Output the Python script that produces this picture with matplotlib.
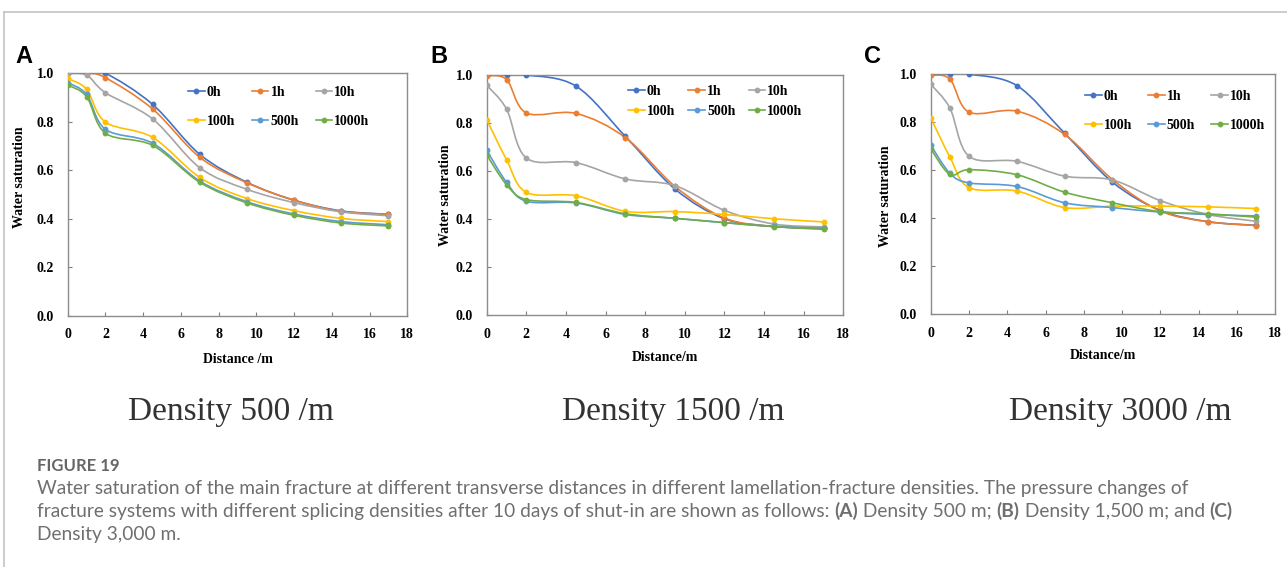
import numpy as np
import matplotlib
matplotlib.use('Agg')
import matplotlib.pyplot as plt
from matplotlib.path import Path
from matplotlib.patches import PathPatch
from matplotlib.lines import Line2D

# distance along the main fracture (m)
distance = [0, 1, 2, 4.5, 7, 9.5, 12, 14.5, 17]
hours = ['0h', '1h', '10h', '100h', '500h', '1000h']
colors = ['#4472C4', '#ED7D31', '#A5A5A5', '#FFC000', '#5B9BD5', '#70AD47']

# (A) density 500 /m
sat_a = [
    [1.0, 1.0, 1.0, 0.872, 0.666, 0.551, 0.477, 0.433, 0.419],
    [1.0, 1.0, 0.982, 0.853, 0.654, 0.549, 0.477, 0.431, 0.419],
    [1.0, 0.993, 0.920, 0.812, 0.611, 0.522, 0.467, 0.429, 0.413],
    [0.979, 0.934, 0.799, 0.736, 0.571, 0.484, 0.434, 0.402, 0.389],
    [0.962, 0.913, 0.769, 0.712, 0.556, 0.471, 0.420, 0.389, 0.376],
    [0.952, 0.904, 0.753, 0.703, 0.551, 0.466, 0.415, 0.383, 0.371],
]
# (B) density 1500 /m
sat_b = [
    [1.0, 1.0, 1.0, 0.954, 0.744, 0.525, 0.401, 0.369, 0.361],
    [0.997, 0.981, 0.842, 0.840, 0.739, 0.536, 0.404, 0.369, 0.363],
    [0.957, 0.858, 0.654, 0.635, 0.567, 0.539, 0.436, 0.379, 0.367],
    [0.814, 0.647, 0.511, 0.497, 0.432, 0.431, 0.419, 0.401, 0.388],
    [0.686, 0.553, 0.474, 0.467, 0.419, 0.403, 0.385, 0.369, 0.361],
    [0.667, 0.543, 0.481, 0.469, 0.422, 0.403, 0.385, 0.368, 0.357],
]
# (C) density 3000 /m
sat_c = [
    [1.0, 1.0, 1.0, 0.953, 0.754, 0.550, 0.432, 0.385, 0.370],
    [0.996, 0.980, 0.842, 0.846, 0.749, 0.561, 0.430, 0.385, 0.369],
    [0.958, 0.859, 0.658, 0.637, 0.575, 0.559, 0.473, 0.415, 0.387],
    [0.818, 0.655, 0.527, 0.513, 0.444, 0.450, 0.450, 0.447, 0.440],
    [0.704, 0.587, 0.547, 0.532, 0.464, 0.444, 0.425, 0.415, 0.409],
    [0.689, 0.582, 0.602, 0.581, 0.508, 0.464, 0.427, 0.418, 0.404],
]

panels = [
    dict(data=sat_a, letter='A', letter_x=15, xlabel='Distance /m', sub='Density 500 /m',
         rect=[0.0526, 0.4427, 0.2639, 0.428], ylab=(-0.1224, 0.573),
         leg=(0.354, 0.948), lspace=1.15, cspace=1.2, sub_x=231, xlpad=8),
    dict(data=sat_b, letter='B', letter_x=430, xlabel='Distance/m', sub='Density 1500 /m',
         rect=[0.3782, 0.4444, 0.2771, 0.4233], ylab=(-0.0973, 0.5),
         leg=(0.396, 0.958), lspace=0.5, cspace=0.95, sub_x=673, xlpad=7.5),
    dict(data=sat_c, letter='C', letter_x=864, xlabel='Distance/m', sub='Density 3000 /m',
         rect=[0.7232, 0.4462, 0.2675, 0.4228], ylab=(-0.1124, 0.49),
         leg=(0.448, 0.934), lspace=1.15, cspace=1.15, sub_x=1120, xlpad=7),
]

W, H = 1287, 567
plt.rcParams['font.family'] = 'Liberation Serif'
plt.rcParams['font.weight'] = 'bold'
fig = plt.figure(figsize=(W / 100, H / 100), dpi=100)


def smooth_path(x, y):
    # Excel-like smoothed line: Catmull-Rom segments as cubic Bezier curves
    pts = np.column_stack([x, y]).astype(float)
    ext = np.vstack([pts[0], pts, pts[-1]])
    verts = [pts[0]]
    codes = [Path.MOVETO]
    for i in range(len(pts) - 1):
        p0, p1, p2, p3 = ext[i], ext[i + 1], ext[i + 2], ext[i + 3]
        verts += [p1 + (p2 - p0) / 6, p2 - (p3 - p1) / 6, p2]
        codes += [Path.CURVE4] * 3
    return Path(verts, codes)


for p in panels:
    ax = fig.add_axes(p['rect'])
    handles = []
    for series, name, col in zip(p['data'], hours, colors):
        ax.add_patch(PathPatch(smooth_path(distance, series), fill=False,
                               edgecolor=col, lw=1.2, zorder=2))
        ax.plot(distance, series, 'o', color=col, ms=3.2, zorder=3)
        handles.append(Line2D([], [], color=col, lw=1.2, marker='o', ms=3.2))
    ax.set_xlim(0, 18)
    ax.set_ylim(0, 1.0)
    ax.set_xticks(range(0, 19, 2))
    ax.set_yticks(np.arange(0, 1.01, 0.2))
    ax.yaxis.set_major_formatter(plt.FormatStrFormatter('%.1f'))
    ax.tick_params(direction='in', length=3, width=0.8, color='#7f7f7f',
                   labelsize=10)
    ax.tick_params(axis='x', pad=9)
    ax.tick_params(axis='y', pad=10)
    for s in ax.spines.values():
        s.set_color('#8c8c8c')
        s.set_linewidth(1.0)
    ax.set_xlabel(p['xlabel'], fontsize=10, fontweight='bold', labelpad=p['xlpad'])
    ax.set_ylabel('Water saturation', fontsize=10, fontweight='bold')
    ax.yaxis.set_label_coords(*p['ylab'])

    # row-wise order in a 3-column legend
    order = [0, 3, 1, 4, 2, 5]
    ax.legend([handles[i] for i in order], [hours[i] for i in order],
              ncol=3, loc='upper left', bbox_to_anchor=p['leg'],
              frameon=False, borderpad=0, borderaxespad=0,
              handlelength=1.2, handletextpad=0.15,
              labelspacing=p['lspace'], columnspacing=p['cspace'],
              prop={'family': 'Liberation Serif', 'weight': 'bold', 'size': 10})

    fig.text(p['letter_x'] / W, 1 - 63 / H, p['letter'], family='Liberation Sans',
             fontweight='bold', fontsize=17, va='baseline', ha='left')
    fig.text(p['sub_x'] / W, 1 - 420 / H, p['sub'], family='Liberation Serif',
             fontweight='normal', fontsize=24, color='#333333',
             ha='center', va='baseline')

# frame lines of the figure panel
fig.add_artist(Line2D([4 / W, 1], [1 - 12 / H, 1 - 12 / H], color='#c4c4c4', lw=1.2))
fig.add_artist(Line2D([4 / W, 4 / W], [0, 1 - 12 / H], color='#c4c4c4', lw=1.2))

cap_font = 'Lato'
cap_col = '#6f6f6f'
cap_size = 13.8
fig.text(37 / W, 1 - 471 / H, 'FIGURE 19', family=cap_font, fontweight='bold',
         fontsize=12, color='#666666', va='baseline')

fig.text(37 / W, 1 - 494 / H,
         'Water saturation of the main fracture at different transverse distances in '
         'different lamellation-fracture densities. The pressure changes of',
         family=cap_font, fontweight='normal', fontsize=cap_size, color=cap_col,
         va='baseline')

pieces = [
    ('fracture systems with different splicing densities after 10 days of shut-in '
     'are shown as follows: ', 'normal'),
    ('(A)', 'bold'), (' Density 500 m; ', 'normal'),
    ('(B)', 'bold'), (' Density 1,500 m; and ', 'normal'),
    ('(C)', 'bold'),
]
prev = fig.text(37 / W, 1 - 517 / H, pieces[0][0], family=cap_font,
                fontweight=pieces[0][1], fontsize=cap_size, color=cap_col,
                va='baseline')
for txt, wt in pieces[1:]:
    prev = plt.annotate(txt, xy=(1, 0), xycoords=prev, va='bottom', ha='left',
                        family=cap_font, fontweight=wt, fontsize=cap_size,
                        color=cap_col)

fig.text(37 / W, 1 - 540 / H, 'Density 3,000 m.', family=cap_font,
         fontweight='normal', fontsize=cap_size, color=cap_col, va='baseline')

fig.savefig('out.png', dpi=100)
